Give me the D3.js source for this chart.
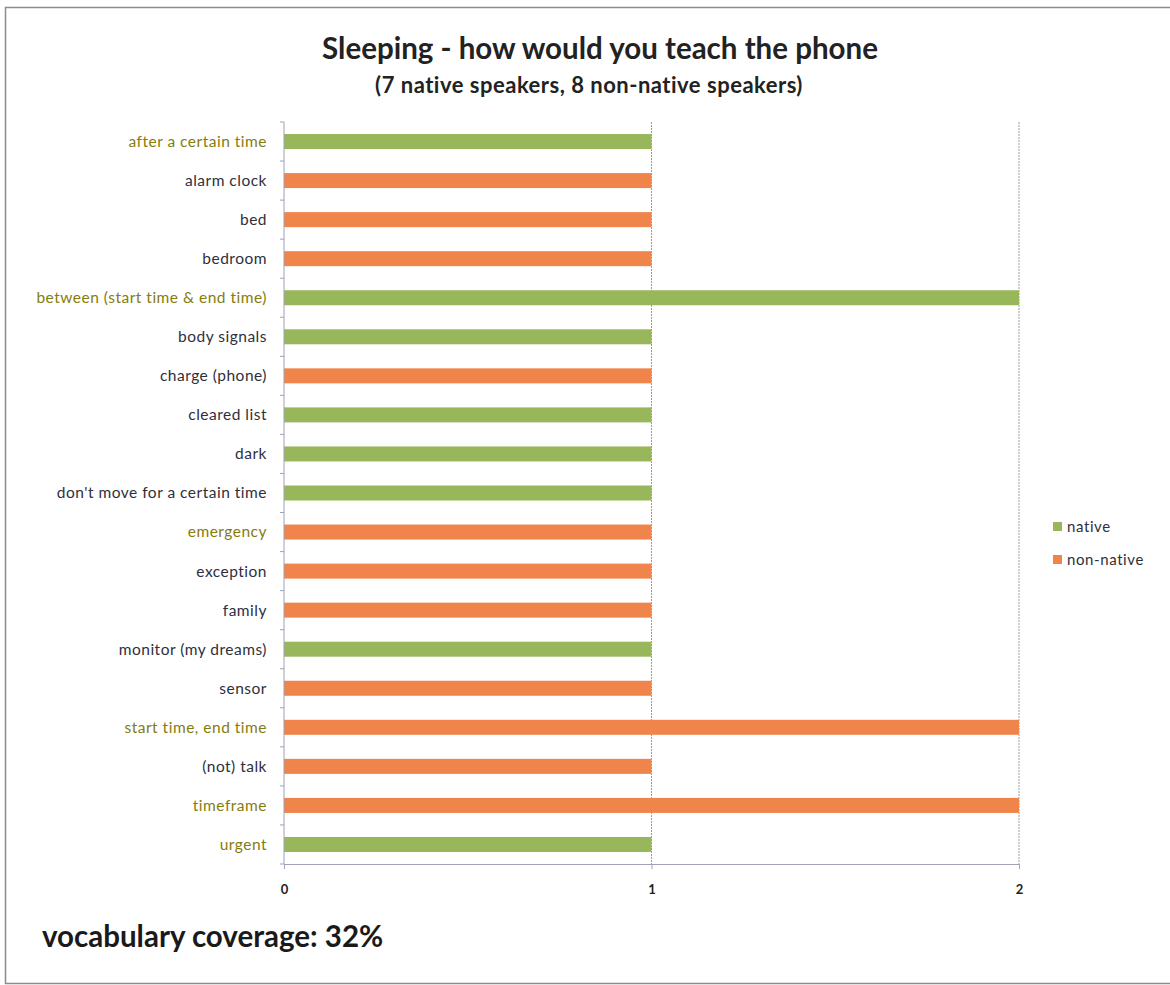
<!DOCTYPE html>
<html>
<head>
<meta charset="utf-8">
<script src="https://cdn.jsdelivr.net/npm/d3@7"></script>
<style>
  body { margin: 0; background: #fff; }
  svg { display: block; font-family: Lato, "Open Sans", sans-serif; }
</style>
</head>
<body>
<svg id="chart" width="1170" height="985"></svg>
<script>
// categories, top to bottom
const categories = [
  "after a certain time", "alarm clock", "bed", "bedroom",
  "between (start time & end time)", "body signals", "charge (phone)",
  "cleared list", "dark", "don't move for a certain time", "emergency",
  "exception", "family", "monitor (my dreams)", "sensor",
  "start time, end time", "(not) talk", "timeframe", "urgent"
];
const native    = [1, 0, 0, 0, 2, 1, 0, 1, 1, 1, 0, 0, 0, 1, 0, 0, 0, 0, 1];
const nonNative = [0, 1, 1, 1, 0, 0, 1, 0, 0, 0, 1, 1, 1, 0, 1, 2, 1, 2, 0];
// labels shown in the olive colour
const highlighted = ["after a certain time", "between (start time & end time)",
  "emergency", "start time, end time", "timeframe", "urgent"];
const xTicks = [0, 1, 2];
const seriesNames = ["native", "non-native"];
const colors = {"native": "#98b75a", "non-native": "#f0854b"};

const svg = d3.select("#chart");

// outer frame
svg.append("rect")
  .attr("x", 5.5).attr("y", 7.5).attr("width", 1170).attr("height", 976)
  .attr("fill", "none").attr("stroke", "#8c8c8c").attr("stroke-width", 1.5);

const x = d3.scaleLinear().domain([0, 2]).range([284, 1019]);
const y = d3.scaleBand().domain(categories).range([122, 864]);

// gridlines
svg.append("g")
  .selectAll("line")
  .data(xTicks.filter(d => d > 0))
  .enter().append("line")
  .attr("x1", d => x(d)).attr("x2", d => x(d))
  .attr("y1", 122).attr("y2", 864)
  .attr("stroke", "#9a9aa6").attr("stroke-width", 1)
  .attr("stroke-dasharray", "2,1");

// bars: one series per category
const rows = categories.map((c, i) => {
  const s = native[i] > 0 ? "native" : "non-native";
  return {cat: c, series: s, value: native[i] > 0 ? native[i] : nonNative[i]};
});

const barH = 15;
svg.append("g")
  .selectAll("rect")
  .data(rows)
  .enter().append("rect")
  .attr("x", x(0))
  .attr("y", d => y(d.cat) + y.bandwidth() / 2 - barH / 2)
  .attr("width", d => x(d.value) - x(0))
  .attr("height", barH)
  .attr("fill", d => colors[d.series]);

// y axis
const yAxis = svg.append("g")
  .attr("transform", "translate(284,0)");
yAxis.append("line")
  .attr("x1", 0).attr("x2", 0).attr("y1", 122).attr("y2", 864)
  .attr("stroke", "#a0a0b8");
yAxis.selectAll("line.tick")
  .data(d3.range(categories.length + 1))
  .enter().append("line")
  .attr("class", "tick")
  .attr("x1", -4).attr("x2", 0)
  .attr("y1", i => 122 + i * y.step()).attr("y2", i => 122 + i * y.step())
  .attr("stroke", "#a0a0b8");
yAxis.selectAll("text")
  .data(categories)
  .enter().append("text")
  .attr("x", -17)
  .attr("y", d => y(d) + y.bandwidth() / 2)
  .attr("dy", "0.35em")
  .attr("text-anchor", "end")
  .attr("font-size", 15.5)
  .attr("letter-spacing", 0.5)
  .attr("fill", d => highlighted.includes(d) ? "#857c0c" : "#2f2f3c")
  .text(d => d);

// x axis
const xAxis = svg.append("g")
  .attr("transform", "translate(0,864)")
  .call(d3.axisBottom(x).tickValues(xTicks).tickSize(5).tickSizeOuter(0).tickFormat(d3.format("d")));
xAxis.select(".domain").attr("stroke", "#a0a0b8");
xAxis.selectAll(".tick line").attr("stroke", "#a0a0b8");
xAxis.selectAll(".tick text")
  .attr("y", 21)
  .attr("font-size", 13)
  .attr("font-family", "Lato, sans-serif")
  .attr("font-weight", "bold")
  .attr("fill", "#222");

// titles
svg.append("text")
  .attr("x", 600).attr("y", 59)
  .attr("text-anchor", "middle")
  .attr("font-size", 29.5).attr("font-weight", "bold").attr("fill", "#222")
  .text("Sleeping - how would you teach the phone");
svg.append("text")
  .attr("x", 589).attr("y", 93)
  .attr("text-anchor", "middle")
  .attr("font-size", 22).attr("font-weight", "bold").attr("fill", "#222")
  .attr("letter-spacing", 0.5)
  .text("(7 native speakers, 8 non-native speakers)");

svg.append("text")
  .attr("x", 42).attr("y", 947)
  .attr("font-size", 29.5).attr("font-weight", "bold").attr("fill", "#1a1a1a")
  .text("vocabulary coverage: 32%");

// legend
const legend = svg.append("g")
  .selectAll("g")
  .data(seriesNames)
  .enter().append("g")
  .attr("transform", (d, i) => `translate(1053,${527 + i * 33})`);
legend.append("rect")
  .attr("x", 0).attr("y", -5).attr("width", 9).attr("height", 9)
  .attr("fill", d => colors[d]);
legend.append("text")
  .attr("x", 14).attr("y", 0).attr("dy", "0.35em")
  .attr("font-size", 15).attr("letter-spacing", 0.6).attr("fill", "#2f2f3c")
  .text(d => d);
</script>
</body>
</html>
